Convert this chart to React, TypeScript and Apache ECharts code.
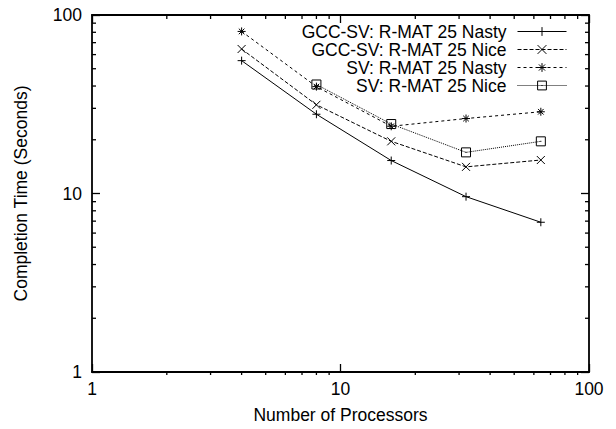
import React, { useEffect, useRef } from "react";
import * as echarts from "echarts";

const processors = [4, 8, 16, 32, 64];
const gccSvNasty = [55.5, 27.8, 15.3, 9.6, 6.9];
const gccSvNice = [64.5, 31.4, 19.6, 14.1, 15.4];
const svNasty = [80.9, 39.7, 23.8, 26.3, 28.7];
const svNice: (number | null)[] = [null, 40.8, 24.5, 17.0, 19.6];
const seriesNames = [
  "GCC-SV: R-MAT 25 Nasty",
  "GCC-SV: R-MAT 25 Nice",
  "SV: R-MAT 25 Nasty",
  "SV: R-MAT 25 Nice",
];
const minorTicks = [2, 3, 4, 5, 6, 7, 8, 9, 20, 30, 40, 50, 60, 70, 80, 90];
const axisMin = 1;
const axisMax = 100;

const FONT = "'Liberation Sans', Arial, Helvetica, sans-serif";
const FS = 17.5;

const symPlus = "path://M0,5L10,5M5,0L5,10";
const symCross = "path://M0,0L10,10M10,0L0,10";
const symStar = "path://M0,5L10,5M5,0L5,10M1.5,1.5L8.5,8.5M8.5,1.5L1.5,8.5";
const symBox = "path://M0,0L10,0L10,10L0,10ZM4.4,5L5.6,5";

function pairs(vals: (number | null)[]) {
  const out: [number, number][] = [];
  vals.forEach((v, i) => {
    if (v !== null) out.push([processors[i], v]);
  });
  return out;
}

export default function App() {
  const ref = useRef<HTMLDivElement>(null);
  useEffect(() => {
    if (!ref.current) return;
    const chart = echarts.init(ref.current, undefined, { renderer: "svg" });
    const gridLeft = 92;
    const gridRight = 27;
    const gridTop = 15;
    const gridBottom = 54;
    const W = 616;
    const H = 429;
    const axisLine = { show: true, lineStyle: { color: "#000", width: 1.8 } };
    const baseAxis = (pos: string, extra: any = {}) => ({
      type: "log",
      logBase: 10,
      min: axisMin,
      max: axisMax,
      position: pos,
      axisLine,
      axisTick: {
        show: true,
        inside: true,
        length: 8,
        lineStyle: { color: "#000", width: 1.3 },
      },
      axisLabel: { show: false },
      splitLine: { show: false },
      ...extra,
    });
    const mkSeries = (
      name: string,
      vals: (number | null)[],
      symbol: string,
      size: number,
      dash: any
    ) => ({
      name,
      type: "line",
      data: pairs(vals),
      symbol,
      symbolSize: size,
      showSymbol: true,
      lineStyle: { color: "#000", width: 1, type: dash },
      itemStyle: { color: "rgba(0,0,0,0)", borderColor: "#000", borderWidth: 1 },
      emphasis: { disabled: true },
      z: 3,
    });
    const legendTops = [22.5, 40.5, 58.5, 76.5];
    const legends = seriesNames.map((n, i) => ({
      data: [n],
      right: 49,
      top: legendTops[i],
      orient: "vertical",
      align: "right",
      padding: 0,
      itemWidth: 49,
      itemHeight: 11,
      selectedMode: false,
      lineStyle: { width: 1, color: "#000" },
      itemStyle: { color: "rgba(0,0,0,0)", borderColor: "#000", borderWidth: 1 },
      textStyle: {
        fontSize: FS,
        fontFamily: FONT,
        color: "#000",
        lineHeight: 16,
        padding: [0, 6, 0, 0],
      },
    }));
    const option: any = {
      animation: false,
      backgroundColor: "#fff",
      grid: { left: gridLeft, right: gridRight, top: gridTop, bottom: gridBottom },
      legend: legends,
      xAxis: [
        baseAxis("bottom", {
          name: "Number of Processors",
          nameLocation: "middle",
          nameGap: 34,
          nameTextStyle: { fontSize: FS, fontFamily: FONT, color: "#000" },
          axisLabel: { show: true, fontSize: FS, fontFamily: FONT, color: "#000", margin: 8 },
        }),
        baseAxis("top"),
      ],
      yAxis: [
        baseAxis("left", {
          name: "Completion Time (Seconds)",
          nameLocation: "middle",
          nameGap: 62,
          nameTextStyle: { fontSize: FS, fontFamily: FONT, color: "#000" },
          axisLabel: { show: true, fontSize: FS, fontFamily: FONT, color: "#000", margin: 10 },
        }),
        baseAxis("right"),
      ],
      series: [
        mkSeries(seriesNames[0], gccSvNasty, symPlus, 8, "solid"),
        mkSeries(seriesNames[1], gccSvNice, symCross, 8, [4, 2]),
        mkSeries(seriesNames[2], svNasty, symStar, 8, [3, 3]),
        mkSeries(seriesNames[3], svNice, symBox, 9, [1, 1]),
      ],
    };
    chart.setOption(option);

    // Minor tick marks (gnuplot style, inward on all four sides), placed through the axes' own scales.
    const x0 = gridLeft;
    const x1 = W - gridRight;
    const y0 = gridTop;
    const y1 = H - gridBottom;
    const style = { stroke: "#000", lineWidth: 1.3 };
    const len = 4;
    const ticks: any[] = [];
    minorTicks.forEach((v) => {
      const px = Number(chart.convertToPixel({ xAxisIndex: 0 }, v));
      const py = Number(chart.convertToPixel({ yAxisIndex: 0 }, v));
      if (isFinite(px)) {
        ticks.push({ type: "line", shape: { x1: px, y1: y1, x2: px, y2: y1 - len }, style, z: 100 });
        ticks.push({ type: "line", shape: { x1: px, y1: y0, x2: px, y2: y0 + len }, style, z: 100 });
      }
      if (isFinite(py)) {
        ticks.push({ type: "line", shape: { x1: x0, y1: py, x2: x0 + len, y2: py }, style, z: 100 });
        ticks.push({ type: "line", shape: { x1: x1, y1: py, x2: x1 - len, y2: py }, style, z: 100 });
      }
    });
    chart.setOption({ graphic: { elements: ticks } });
    return () => chart.dispose();
  }, []);
  return (
    <div
      ref={ref}
      style={{ position: "fixed", left: 0, top: 0, width: 616, height: 429, background: "#fff" }}
    />
  );
}
